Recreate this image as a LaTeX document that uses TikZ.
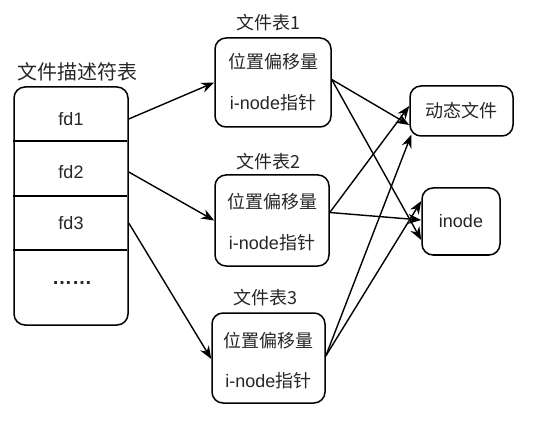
\documentclass[tikz,border=0pt]{standalone}
\usepackage{fontspec}
\setmainfont{Liberation Sans}
\newfontfamily\cjk{Noto Sans CJK SC}
\usetikzlibrary{arrows.meta}
\begin{document}
\begin{tikzpicture}[x=1pt,y=-1pt,
  font=\fontsize{18}{21}\selectfont,
  box/.style={draw, line width=1.5pt, rounded corners=11pt, inner sep=0pt},
  conn/.style={line width=1.4pt, -{Stealth[length=13pt,width=10pt]}},
  txt/.style={inner sep=0pt, anchor=center, text=black!85}]
\useasboundingbox (0,0) rectangle (559,430);
% descriptor table
\node[box, minimum width=114pt, minimum height=238pt] (fdt) at (71,206) {};
\node[txt, font=\fontsize{20}{23}\selectfont\cjk] (fdttitle) at (77,72) {文件描述符表};
\draw[line width=1.5pt] (fdt.west |- 0,141) coordinate (d1a) -- ([xshift=-2pt]fdt.east |- 0,141) coordinate (d1b);
\draw[line width=1.5pt] (fdt.west |- 0,196) coordinate (d2a) -- ([xshift=-2pt]fdt.east |- 0,196) coordinate (d2b);
\draw[line width=1.5pt] (fdt.west |- 0,250) coordinate (d3a) -- ([xshift=-2pt]fdt.east |- 0,250) coordinate (d3b);
\node[txt] (fd1) at (71,119) {fd1};
\node[txt] (fd2) at (71,172) {fd2};
\node[txt] (fd3) at (71,223) {fd3};
\node[txt, font=\fontsize{20}{23}\selectfont\bfseries] (dots) at (72,283) {……};
% file tables
\node[box, minimum width=116pt, minimum height=89pt] (t1) at (273,82.5) {};
\node[box, minimum width=114pt, minimum height=91pt] (t2) at (272,220.5) {};
\node[box, minimum width=113pt, minimum height=90pt] (t3) at (268.5,358) {};
\node[txt, font=\fontsize{18}{21}\selectfont\cjk] (l1) at (268,23) {文件表1};
\node[txt, font=\fontsize{18}{21}\selectfont\cjk] (l2) at (268,162) {文件表2};
\node[txt, font=\fontsize{18}{21}\selectfont\cjk] (l3) at (265,298) {文件表3};
\node[txt, font=\fontsize{18}{21}\selectfont\cjk] (o1) at (273,62) {位置偏移量};
\node[txt] (p1) at (273,103) {i-node{\cjk 指针}};
\node[txt, font=\fontsize{18}{21}\selectfont\cjk] (o2) at (272,202) {位置偏移量};
\node[txt] (p2) at (272,243) {i-node{\cjk 指针}};
\node[txt, font=\fontsize{18}{21}\selectfont\cjk] (o3) at (268.5,341) {位置偏移量};
\node[txt] (p3) at (268.5,381) {i-node{\cjk 指针}};
% targets
\node[box, minimum width=103pt, minimum height=50pt] (dyn) at (461.5,111) {};
\node[txt, font=\fontsize{18}{21}\selectfont\cjk] (dyntext) at (461.5,111) {动态文件};
\node[box, minimum width=78pt, minimum height=67pt] (ino) at (461,221.5) {};
\node[txt] (inotext) at (461,221.5) {inode};
% connectors
\draw[conn] (fd1 -| fdt.east) -- (t1.west);
\draw[conn] (fd2 -| fdt.east) -- (t2.west);
\draw[conn] (fd3 -| fdt.east) -- ([yshift=-1pt]t3.west);
\draw[conn] ([yshift=3pt]t1.east) -- ([yshift=-14pt]dyn.west);
\draw[conn] ([yshift=3pt]t1.east) -- ([yshift=-18.5pt]ino.west);
\draw[conn] ([yshift=8pt]t2.east) -- ([yshift=5pt]dyn.west);
\draw[conn] ([yshift=8pt]t2.east) -- ([yshift=1.5pt]ino.west);
\draw[conn] ([yshift=2pt]t3.east) -- ([xshift=2pt,yshift=2pt]dyn.south west);
\draw[conn] ([yshift=2pt]t3.east) -- ([yshift=20.5pt]ino.west);
\end{tikzpicture}
\end{document}
